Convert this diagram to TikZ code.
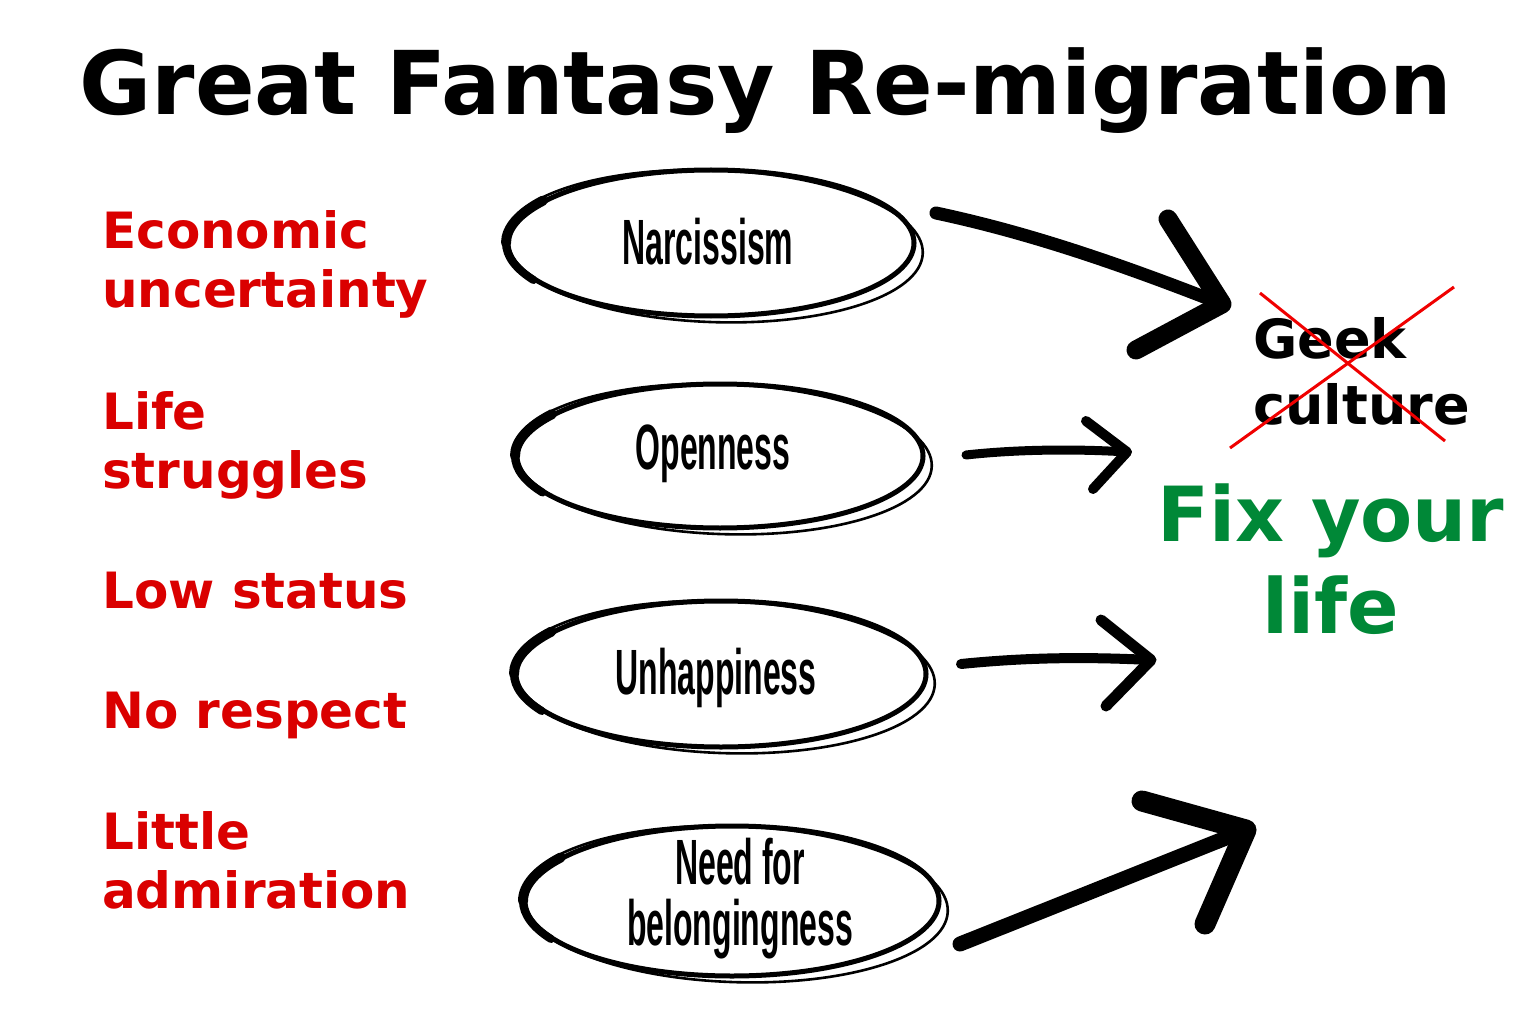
\documentclass[tikz,border=0pt]{standalone}
\usepackage{fontspec}
\setmainfont{DejaVu Sans}
\newfontfamily\handfont{Liberation Sans}
\usetikzlibrary{calc}
\definecolor{labred}{RGB}{218,0,0}
\definecolor{fixgreen}{RGB}{0,136,55}
\definecolor{crossred}{RGB}{240,0,0}
\tikzset{
  lbl/.style={anchor=base west, align=left, text=labred, font=\bfseries\fontsize{50}{59}\selectfont, inner sep=0},
  handtxt/.style={anchor=base, inner sep=0, font=\handfont\bfseries\fontsize{64}{57}\selectfont},
  brush/.style={line width=#1, line cap=round, line join=round, draw=black},
  ring/.style={draw=black, line width=5},
}
\newcommand{\squish}[1]{\scalebox{0.5}[1]{#1}}
\newcommand{\handring}[3]{% center, rx, ry
  \draw[ring] (#1) ellipse [x radius=#2, y radius=#3];
  \draw[draw=black, line width=2.6, rotate around={-2:(#1)}] ($(#1)+(3,3)$) ellipse [x radius=#2+6, y radius=#3+3];
  \draw[draw=black, line width=10, line cap=round] ($(#1)+(-#2-2,0)$) arc [start angle=180, end angle=215, x radius=#2+2, y radius=#3+1];
  \draw[draw=black, line width=8, line cap=round] ($(#1)+(-#2-2,0)$) arc [start angle=180, end angle=150, x radius=#2+2, y radius=#3+1];
}
\begin{document}
\begin{tikzpicture}[x=1pt,y=-1pt]
\useasboundingbox[fill=white] (0,0) rectangle (1536,1024);

% title
\node[anchor=base, inner sep=0, font=\bfseries\fontsize{88}{100}\selectfont] (title) at (766,115) {Great Fantasy Re-migration};

% red labels (anchor at baseline of last line)
\node[lbl] (l1) at (102,308) {Economic\\uncertainty};
\node[lbl] (l2) at (102,488) {Life\\struggles};
\node[lbl] (l3) at (102,608) {Low status};
\node[lbl] (l4) at (102,728) {No respect};
\node[lbl] (l5) at (102,908) {Little\\admiration};

% ellipses
\coordinate (c1) at (711,243);
\coordinate (c2) at (720,456);
\coordinate (c3) at (721,674);
\coordinate (c4) at (732,901);
\handring{c1}{203}{73}
\handring{c2}{203}{72}
\handring{c3}{205}{73}
\handring{c4}{207}{75}

\node[handtxt] (e1) at (708,265) {\squish{Narcissism}};
\node[handtxt] (e2) at (713,469) {\squish{Openness}};
\node[handtxt] (e3) at (716,694) {\squish{Unhappiness}};
\node[handtxt] (e4) at (740,884) {\squish{Need for}};
\node[handtxt] (e4b) at (740,945) {\squish{belongingness}};

% right texts
\node[anchor=base west, align=left, inner sep=0, font=\bfseries\fontsize{54}{66}\selectfont] (geek) at (1253,424) {Geek\\culture};
\coordinate (x1a) at (1260,293);
\coordinate (x1b) at (1445,441);
\coordinate (x2a) at (1454,287);
\coordinate (x2b) at (1230,448);
\draw[crossred, line width=3] (x1a) -- (x1b);
\draw[crossred, line width=3] (x2a) -- (x2b);

\node[anchor=base, align=center, inner sep=0, text=fixgreen, font=\bfseries\fontsize{76}{92}\selectfont] (fix) at (1331,633) {Fix your\\life};

% arrows
\coordinate (a1s) at (936,213);
\coordinate (a1t) at (1222,304);
\coordinate (a1u) at (1168,219);
\coordinate (a1d) at (1136,350);
\draw[brush=13] (a1s) .. controls (1030,233) and (1120,264) .. (a1t);
\draw[brush=19] (a1u) -- (a1t) -- (a1d);

\coordinate (a2s) at (966,455);
\coordinate (a2t) at (1127,452);
\coordinate (a2u) at (1086,421);
\coordinate (a2d) at (1093,489);
\draw[brush=9] (a2s) .. controls (1020,449) and (1080,449) .. (a2t);
\draw[brush=10] (a2u) -- (a2t) -- (a2d);

\coordinate (a3s) at (961,664);
\coordinate (a3t) at (1151,660);
\coordinate (a3u) at (1101,620);
\coordinate (a3d) at (1106,706);
\draw[brush=10] (a3s) .. controls (1030,657) and (1090,657) .. (a3t);
\draw[brush=11] (a3u) -- (a3t) -- (a3d);

\coordinate (a4s) at (960,944);
\coordinate (a4t) at (1246,830);
\coordinate (a4u) at (1142,801);
\coordinate (a4d) at (1205,924);
\draw[brush=15] (a4s) -- (a4t);
\draw[brush=21] (a4u) -- (a4t) -- (a4d);
\end{tikzpicture}
\end{document}
